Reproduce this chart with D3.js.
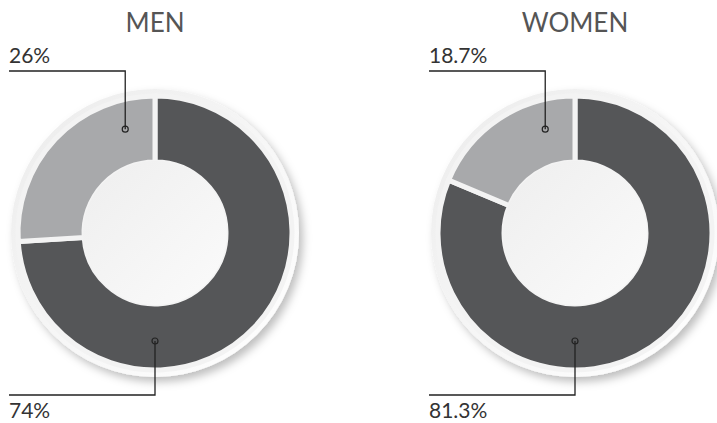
<!DOCTYPE html>
<html>
<head>
<meta charset="utf-8">
<script src="https://cdn.jsdelivr.net/npm/d3@7"></script>
<style>
  body { margin: 0; background: #fff; }
  text { font-family: Lato, "Open Sans", sans-serif; }
</style>
</head>
<body>
<div id="plot"></div>
<script>
// chart values
const groups = ['MEN', 'WOMEN'];
const darkShare = [74, 81.3];
const lightShare = [26, 18.7];
const darkLabels = ['74%', '81.3%'];
const lightLabels = ['26%', '18.7%'];

const width = 717, height = 423;
const svg = d3.select('#plot').append('svg')
    .attr('width', width)
    .attr('height', height);

// positions of the two donuts
const cx = d3.scalePoint().domain(groups).range([155, 575]);
const cy = 233;
const outerR = 137, innerR = 71, borderR = 144;

const defs = svg.append('defs');
// white rim with shading
let rimGrad = defs.append('linearGradient')
    .attr('id', 'rim')
    .attr('x1', 0).attr('y1', 0).attr('x2', 1).attr('y2', 1);
rimGrad.append('stop').attr('offset', '0%').attr('stop-color', '#ebebeb');
rimGrad.append('stop').attr('offset', '55%').attr('stop-color', '#f7f7f7');
rimGrad.append('stop').attr('offset', '100%').attr('stop-color', '#ffffff');

let holeGrad = defs.append('linearGradient')
    .attr('id', 'hole')
    .attr('x1', 0).attr('y1', 0).attr('x2', 1).attr('y2', 1);
holeGrad.append('stop').attr('offset', '0%').attr('stop-color', '#eeeeee');
holeGrad.append('stop').attr('offset', '100%').attr('stop-color', '#fbfbfb');

let shadow = defs.append('filter')
    .attr('id', 'shadow')
    .attr('x', '-20%').attr('y', '-20%')
    .attr('width', '140%').attr('height', '140%');
shadow.append('feDropShadow')
    .attr('dx', 4).attr('dy', 5)
    .attr('stdDeviation', 4)
    .attr('flood-color', '#000')
    .attr('flood-opacity', 0.25);

const pie = d3.pie().sort(null).value(d => d.value);
const arc = d3.arc().innerRadius(innerR).outerRadius(outerR);
// where the leader dots sit inside the ring
const dotR = 108;

groups.forEach(function (g, i) {
    let x0 = cx(g);
    let chart = svg.append('g').attr('transform', `translate(${x0},${cy})`);
    let data = [
        { key: 'dark', value: darkShare[i], label: darkLabels[i] },
        { key: 'light', value: lightShare[i], label: lightLabels[i] }
    ];

    // title
    svg.append('text')
        .attr('x', x0)
        .attr('y', 32)
        .attr('text-anchor', 'middle')
        .attr('font-size', 26)
        .attr('fill', '#555')
        .text(g);

    // rim
    chart.append('circle')
        .attr('r', borderR)
        .attr('fill', 'url(#rim)')
        .attr('filter', 'url(#shadow)');

    chart.selectAll('path.slice')
        .data(pie(data))
        .enter()
        .append('path')
        .attr('class', 'slice')
        .attr('d', arc)
        .attr('fill', d => d.data.key == 'dark' ? '#555658' : '#a8a9ab')
        .attr('stroke', '#f3f3f3')
        .attr('stroke-width', 5)
        .attr('stroke-linejoin', 'miter');

    // hole
    chart.append('circle')
        .attr('r', innerR + 1)
        .attr('fill', 'url(#hole)');

    // leader lines
    let arcs = pie(data);
    arcs.forEach(function (a) {
        let ang, lineY, textY;
        if (a.data.key == 'dark') {
            ang = Math.PI;
            lineY = 395 - cy;
            textY = 418 - cy;
        } else {
            ang = a.endAngle - 16 * Math.PI / 180;
            lineY = 71 - cy;
            textY = 63 - cy;
        }
        let px = dotR * Math.sin(ang);
        let py = -dotR * Math.cos(ang);
        let lx = -146;
        chart.append('path')
            .attr('d', `M${px},${py}L${px},${lineY}L${lx},${lineY}`)
            .attr('fill', 'none')
            .attr('stroke', '#222')
            .attr('stroke-width', 1.3);
        chart.append('circle')
            .attr('cx', px).attr('cy', py)
            .attr('r', 3)
            .attr('fill', 'none')
            .attr('stroke', '#222')
            .attr('stroke-width', 1.2);
        chart.append('text')
            .attr('x', lx)
            .attr('y', textY)
            .attr('font-size', 21)
            .attr('fill', '#333')
            .text(a.data.label);
    });
});
</script>
</body>
</html>
